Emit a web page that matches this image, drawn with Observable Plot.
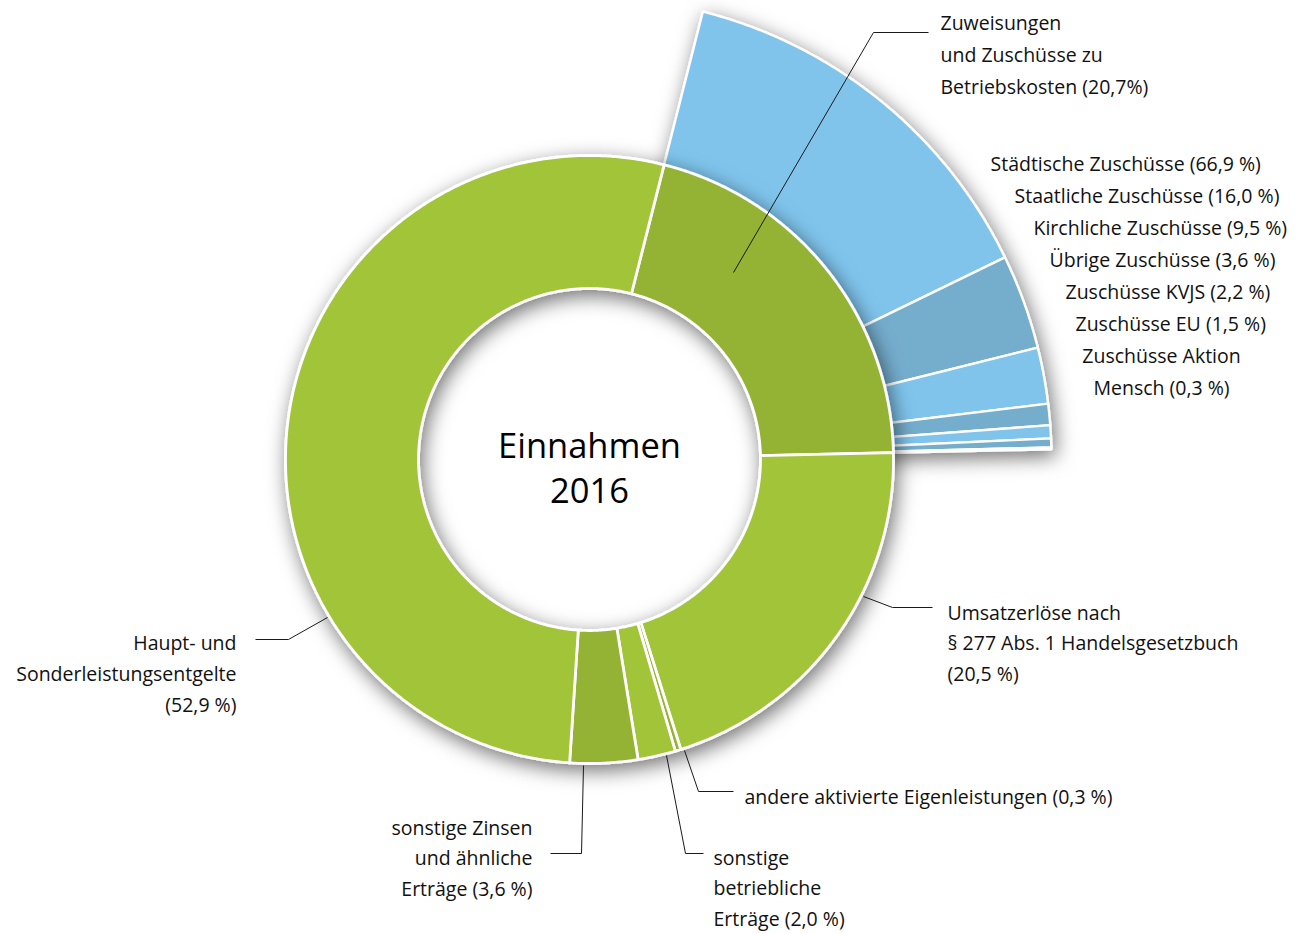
<!DOCTYPE html>
<html lang="de">
<head>
<meta charset="utf-8">
<script src="https://cdn.jsdelivr.net/npm/d3@7"></script>
<script src="https://cdn.jsdelivr.net/npm/@observablehq/plot@0.6"></script>
<style>
html,body{margin:0;padding:0;background:#fff;}
#chart svg{display:block;}
</style>
</head>
<body>
<div id="chart"></div>
<script>
// ---------------- data ----------------
const mainCategories = [
  "Zuweisungen und Zuschüsse zu Betriebskosten",
  "Umsatzerlöse nach § 277 Abs. 1 Handelsgesetzbuch",
  "andere aktivierte Eigenleistungen",
  "sonstige betriebliche Erträge",
  "sonstige Zinsen und ähnliche Erträge",
  "Haupt- und Sonderleistungsentgelte"
];
const mainValues = [20.7, 20.5, 0.3, 2.0, 3.6, 52.9];
const mainLabelLines = [
  ["Zuweisungen", "und Zuschüsse zu", "Betriebskosten (20,7%)"],
  ["Umsatzerlöse nach", "§ 277 Abs. 1 Handelsgesetzbuch", "(20,5 %)"],
  ["andere aktivierte Eigenleistungen (0,3 %)"],
  ["sonstige", "betriebliche", "Erträge (2,0 %)"],
  ["sonstige Zinsen", "und ähnliche", "Erträge (3,6 %)"],
  ["Haupt- und", "Sonderleistungsentgelte", "(52,9 %)"]
];
const subCategories = [
  "Städtische Zuschüsse", "Staatliche Zuschüsse", "Kirchliche Zuschüsse",
  "Übrige Zuschüsse", "Zuschüsse KVJS", "Zuschüsse EU", "Zuschüsse Aktion Mensch"
];
const subValues = [66.9, 16.0, 9.5, 3.6, 2.2, 1.5, 0.3];
const subLabelLines = [
  ["Städtische Zuschüsse (66,9 %)"],
  ["Staatliche Zuschüsse (16,0 %)"],
  ["Kirchliche Zuschüsse (9,5 %)"],
  ["Übrige Zuschüsse (3,6 %)"],
  ["Zuschüsse KVJS (2,2 %)"],
  ["Zuschüsse EU (1,5 %)"],
  ["Zuschüsse Aktion", "Mensch (0,3 %)"]
];
const centerTitle = ["Einnahmen", "2016"];

// ---------------- layout ----------------
const W = 1302, H = 934;
const CX = 589, CY = 459;
const R_IN = 171, R_OUT = 304, R_SUB_IN = 230, R_SUB_OUT = 462;
const START_ANGLE = 14.2;
const greenLight = "#a2c438", greenDark = "#94b336";
const blueLight = "#80c4ec", blueDark = "#74adcd";
const FONT = "'Open Sans', 'Noto Sans', sans-serif";
const LABEL_SIZE = 19.5;

const mainLabelLayout = [
  {x: 940, y: 23, gap: 32, anchor: "start", leader: [[733,272],[873,32],[928,32]]},
  {x: 947, y: 613, gap: 30.5, anchor: "start", leader: [[863,596],[892,607],[932,607]]},
  {x: 744, y: 797, gap: 0, anchor: "start", leader: [[684,750],[698,791],[733,791]]},
  {x: 713, y: 858, gap: 30.5, anchor: "start", leader: [[666,755],[685,853],[703,853]]},
  {x: 532, y: 828, gap: 30.5, anchor: "end", leader: [[583,765],[581,853],[550,853]]},
  {x: 236, y: 643, gap: 31, anchor: "end", leader: [[327,617],[288,639],[255,639]]}
];
const subLabelLayout = [
  {x: 990, y: 164, gap: 0, anchor: "start"},
  {x: 1014, y: 196, gap: 0, anchor: "start"},
  {x: 1033, y: 228, gap: 0, anchor: "start"},
  {x: 1049, y: 260, gap: 0, anchor: "start"},
  {x: 1065, y: 292, gap: 0, anchor: "start"},
  {x: 1075, y: 324, gap: 0, anchor: "start"},
  {x: 1161, y: 356, gap: 32, anchor: "middle"}
];

// ---------------- geometry from data ----------------
function pt(a, r) {
  const t = a * Math.PI / 180;
  return [CX + r * Math.sin(t), CY - r * Math.cos(t)];
}
function sector(id, a0, a1, r0, r1, color) {
  const n = Math.max(2, Math.ceil((a1 - a0) / 0.4));
  const out = [];
  for (let i = 0; i <= n; i++) out.push(pt(a0 + (a1 - a0) * i / n, r1));
  for (let i = n; i >= 0; i--) out.push(pt(a0 + (a1 - a0) * i / n, r0));
  out.push(out[0]);
  return out.map(([x, y]) => ({id, x, y, color}));
}

const total = d3.sum(mainValues);
let acc = START_ANGLE;
const mainAngles = [];
const donutPts = [];
mainValues.forEach((v, i) => {
  const a0 = acc, a1 = acc + v / total * 360;
  acc = a1;
  mainAngles.push([a0, a1]);
  donutPts.push(...sector(mainCategories[i], a0, a1, R_IN, R_OUT, i % 2 === 0 ? greenDark : greenLight));
});

const subTotal = d3.sum(subValues);
const [z0, z1] = mainAngles[0];
let acc2 = z0;
const subPts = [];
subValues.forEach((v, i) => {
  const a0 = acc2, a1 = acc2 + v / subTotal * (z1 - z0);
  acc2 = a1;
  subPts.push(...sector(subCategories[i], a0, a1, R_SUB_IN, R_SUB_OUT, i % 2 === 0 ? blueLight : blueDark));
});

// leader lines
const leaderPts = [];
mainLabelLayout.forEach((l, i) => {
  l.leader.forEach(([x, y]) => leaderPts.push({id: mainCategories[i], x, y}));
});

// text rows
const textRows = [];
function addRows(lines, layout) {
  lines.forEach((ls, i) => {
    const L = layout[i];
    ls.forEach((t, j) => textRows.push({text: t, x: L.x, y: L.y + j * L.gap, anchor: L.anchor}));
  });
}
addRows(mainLabelLines, mainLabelLayout);
addRows(subLabelLines, subLabelLayout);
const centerRows = centerTitle.map((t, j) => ({text: t, x: CX, y: CY - 13 + j * 45}));

const textOpts = (anchor) => ({
  x: "x", y: "y", text: "text", textAnchor: anchor, lineAnchor: "middle",
  fontSize: LABEL_SIZE, fontFamily: FONT, fill: "#111"
});

const plot = Plot.plot({
  width: W, height: H, margin: 0,
  x: {domain: [0, W], range: [0, W], axis: null},
  y: {domain: [0, H], range: [0, H], axis: null},
  color: {type: "identity"},
  style: {background: "#fff", fontFamily: FONT},
  marks: [
    Plot.line(subPts, {x: "x", y: "y", z: "id", fill: "color", stroke: "#fff", strokeWidth: 2.4, curve: "linear"}),
    Plot.line(donutPts, {x: "x", y: "y", z: "id", fill: "color", stroke: "#fff", strokeWidth: 2.8, curve: "linear"}),
    Plot.line(leaderPts, {x: "x", y: "y", z: "id", stroke: "#1a1a1a", strokeWidth: 1, curve: "linear", strokeLinecap: "butt"}),
    Plot.text(textRows.filter(d => d.anchor === "start"), textOpts("start")),
    Plot.text(textRows.filter(d => d.anchor === "end"), textOpts("end")),
    Plot.text(textRows.filter(d => d.anchor === "middle"), textOpts("middle")),
    Plot.text(centerRows, {x: "x", y: "y", text: "text", textAnchor: "middle", lineAnchor: "middle", fontSize: 34.5, fontFamily: FONT, fill: "#000"})
  ]
});

// soft drop shadows on the two rings
const svg = d3.select(plot);
const defs = svg.insert("defs", ":first-child");
const f = defs.append("filter").attr("id", "ringShadow")
  .attr("x", "-20%").attr("y", "-20%").attr("width", "140%").attr("height", "140%");
f.append("feDropShadow").attr("dx", 3).attr("dy", 6).attr("stdDeviation", 10)
  .attr("flood-color", "#000").attr("flood-opacity", 0.55);
const groups = plot.querySelectorAll(":scope > g");
groups[0].setAttribute("filter", "url(#ringShadow)");
groups[1].setAttribute("filter", "url(#ringShadow)");

document.getElementById("chart").appendChild(plot);
</script>
</body>
</html>
